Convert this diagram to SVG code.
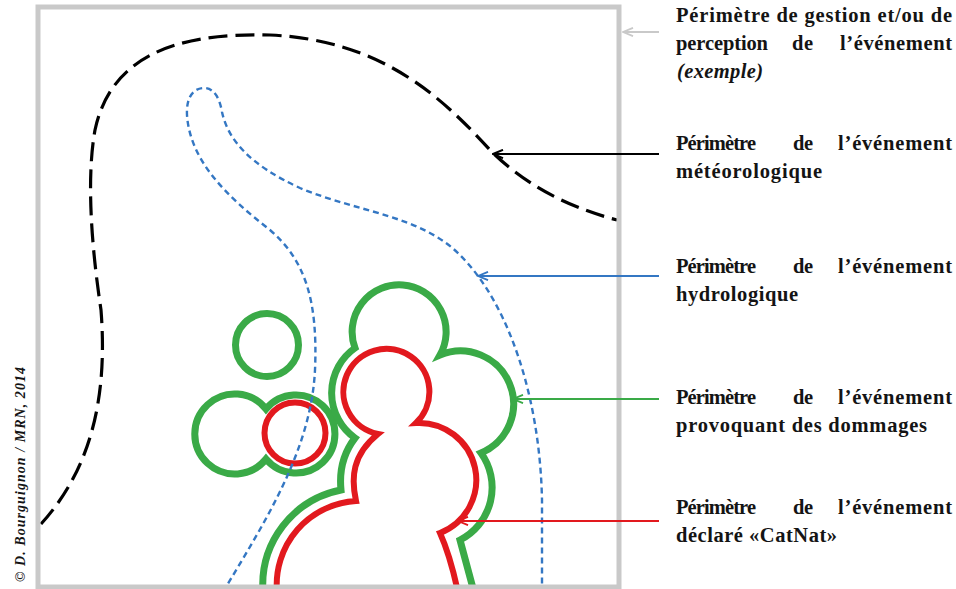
<svg xmlns="http://www.w3.org/2000/svg" width="956" height="589" viewBox="0 0 956 589">
<style>
.lbl{font-family:"Liberation Serif","Times New Roman",serif;font-weight:bold;font-size:20.5px;fill:#141414}
.it{font-style:italic}
.cp{font-family:"Liberation Serif","Times New Roman",serif;font-weight:bold;font-style:italic;font-size:14px;fill:#141414}
.shape{fill:none;stroke-linejoin:miter;stroke-miterlimit:10}
.meteo{stroke:#000;stroke-width:3.2;stroke-dasharray:19 8}
.hydro{stroke:#3477c3;stroke-width:2.4;stroke-dasharray:6 4}
.dmg{stroke:#3aaa47;stroke-width:7}
.cat{stroke:#e2191e;stroke-width:6}
.frame{fill:none;stroke:#c9c9c9;stroke-width:5}
.con{fill:none;stroke-width:2}
</style>
<defs>
<marker id="ah-gray" viewBox="0 0 12 10" refX="11" refY="5" markerWidth="12" markerHeight="10" markerUnits="userSpaceOnUse" orient="auto"><path d="M1,0.8 L11,5 L1,9.2" fill="none" stroke="#c9c9c9" stroke-width="1.8"/></marker>
<marker id="ah-black" viewBox="0 0 12 10" refX="11" refY="5" markerWidth="12" markerHeight="10" markerUnits="userSpaceOnUse" orient="auto"><path d="M1,0.8 L11,5 L1,9.2" fill="none" stroke="#000" stroke-width="2"/></marker>
<marker id="ah-blue" viewBox="0 0 12 10" refX="11" refY="5" markerWidth="12" markerHeight="10" markerUnits="userSpaceOnUse" orient="auto"><path d="M1,0.8 L11,5 L1,9.2" fill="none" stroke="#3477c3" stroke-width="1.8"/></marker>
<marker id="ah-green" viewBox="0 0 12 10" refX="11" refY="5" markerWidth="12" markerHeight="10" markerUnits="userSpaceOnUse" orient="auto"><path d="M1,0.8 L11,5 L1,9.2" fill="none" stroke="#3aaa47" stroke-width="1.8"/></marker>
<marker id="ah-red" viewBox="0 0 12 10" refX="11" refY="5" markerWidth="12" markerHeight="10" markerUnits="userSpaceOnUse" orient="auto"><path d="M1,0.8 L11,5 L1,9.2" fill="none" stroke="#e2191e" stroke-width="1.8"/></marker>
</defs>
<rect x="0" y="0" width="956" height="589" fill="#fff"/>

<g id="perimetre-meteorologique">
<path class="shape meteo" d="M 41,524 C 90,470 108,400 101,310 C 92,250 86,180 95,130 C 110,60 170,32 270,35 C 380,40 440,95 490,150 C 520,180 560,205 617,220"/>
<text class="lbl" x="676" y="150" textLength="80" lengthAdjust="spacing">Périmètre</text>
<text class="lbl" x="793" y="150" textLength="20" lengthAdjust="spacing">de</text>
<text class="lbl" x="838" y="150" textLength="114" lengthAdjust="spacing">l’événement</text>
<text class="lbl" x="676" y="178" textLength="146" lengthAdjust="spacing">météorologique</text>
</g>

<g id="perimetre-dommages">
<circle class="shape dmg" cx="267" cy="345" r="31.5"/>
<path class="shape dmg" d="M 266,409 A 40 40 0 1 0 266,459 A 39 39 0 1 0 266,409 Z"/>
<path class="shape dmg" d="M 263,592 A 97 97 0 0 1 341,490 Q 338,460 355,438 A 55 55 0 0 1 355,348 A 47 47 0 1 1 440,355 A 53 53 0 0 1 481,453 A 59 59 0 0 1 460,540 L 474,592"/>
<text class="lbl" x="676" y="404" textLength="80" lengthAdjust="spacing">Périmètre</text>
<text class="lbl" x="793" y="404" textLength="20" lengthAdjust="spacing">de</text>
<text class="lbl" x="838" y="404" textLength="114" lengthAdjust="spacing">l’événement</text>
<text class="lbl" x="676" y="432" textLength="251" lengthAdjust="spacing">provoquant des dommages</text>
</g>

<g id="perimetre-catnat">
<circle class="shape cat" cx="295" cy="433" r="30.5"/>
<path class="shape cat" d="M 277,592 A 84 84 0 0 1 356,501 C 351,478 352,455 378,434 A 43 43 0 1 1 416,423 A 57 57 0 0 1 440,533 Q 450,555 458,592"/>
<text class="lbl" x="676" y="514" textLength="80" lengthAdjust="spacing">Périmètre</text>
<text class="lbl" x="793" y="514" textLength="20" lengthAdjust="spacing">de</text>
<text class="lbl" x="838" y="514" textLength="114" lengthAdjust="spacing">l’événement</text>
<text class="lbl" x="676" y="542" textLength="161" lengthAdjust="spacing">déclaré «CatNat»</text>
</g>

<g id="perimetre-hydrologique">
<path class="shape hydro" d="M 223,592 C 266,520 311,450 315,370 C 318,300 305,260 270,230 C 225,195 190,160 187,115 C 186,95 195,88 204,88 C 215,88 220,100 222,112 C 228,140 250,165 300,188 C 360,213 420,215 460,255 C 510,305 540,400 542,500 L 542,592"/>
<text class="lbl" x="676" y="273" textLength="80" lengthAdjust="spacing">Périmètre</text>
<text class="lbl" x="793" y="273" textLength="20" lengthAdjust="spacing">de</text>
<text class="lbl" x="838" y="273" textLength="114" lengthAdjust="spacing">l’événement</text>
<text class="lbl" x="676" y="301" textLength="122" lengthAdjust="spacing">hydrologique</text>
</g>

<g id="perimetre-gestion">
<rect class="frame" x="38" y="7" width="581" height="580"/>
<text class="lbl" x="676" y="22" textLength="276" lengthAdjust="spacing">Périmètre de gestion et/ou de</text>
<text class="lbl" x="676" y="50" textLength="92" lengthAdjust="spacing">perception</text>
<text class="lbl" x="792" y="50" textLength="21" lengthAdjust="spacing">de</text>
<text class="lbl" x="840" y="50" textLength="112" lengthAdjust="spacing">l’événement</text>
<text class="lbl it" x="677" y="78" textLength="86" lengthAdjust="spacing">(exemple)</text>
</g>

<g id="connectors">
<line class="con" x1="659" y1="32" x2="623" y2="32" stroke="#c9c9c9" marker-end="url(#ah-gray)"/>
<line class="con" x1="659" y1="154" x2="493" y2="154" stroke="#000" stroke-width="2.5" marker-end="url(#ah-black)"/>
<line class="con" x1="659" y1="276" x2="478" y2="276" stroke="#3477c3" marker-end="url(#ah-blue)"/>
<line class="con" x1="659" y1="399" x2="513" y2="399" stroke="#3aaa47" marker-end="url(#ah-green)"/>
<line class="con" x1="659" y1="521" x2="458" y2="521" stroke="#e2191e" marker-end="url(#ah-red)"/>
</g>

<g id="credit">
<text class="cp" transform="translate(25,582) rotate(-90)" x="0" y="0" textLength="215" lengthAdjust="spacing">© D. Bourguignon / MRN, 2014</text>
</g>
</svg>
